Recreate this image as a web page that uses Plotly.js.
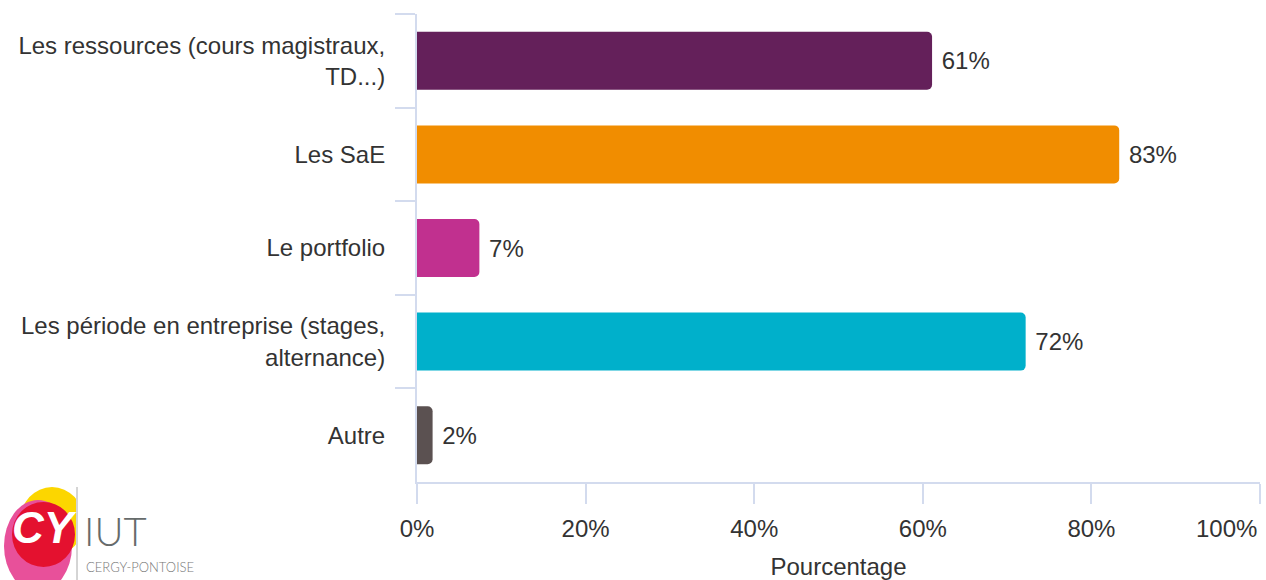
<!DOCTYPE html>
<html>
<head>
<meta charset="utf-8">
<script src="https://cdn.plot.ly/plotly-3.0.1.min.js"></script>
<style>html,body{margin:0;padding:0;background:#fff;}#chart{width:1266px;height:580px;}</style>
</head>
<body>
<div id="chart"></div>
<script>
var categories = ["Les ressources (cours magistraux,<br>TD...)", "Les SaE", "Le portfolio", "Les période en entreprise (stages,<br>alternance)", "Autre"];
var values = [61.1, 83.3, 7.4, 72.2, 1.85];
var barColors = ["#64205a", "#f18d00", "#c1308f", "#00b0cb", "#5b5151"];
var xTickVals = [0, 20, 40, 60, 80, 100];
var xTickText = ["0%", "20%", "40%", "60%", "80%", "100%"];
var xTitle = "Pourcentage";

var W = 1266, H = 580;
var M = {l: 417, r: 6, t: 14, b: 98};
var PW = W - M.l - M.r, PH = H - M.t - M.b;
function px(x) { return (x - M.l) / PW; }
function py(y) { return (H - M.b - y) / PH; }

var labels = values.map(function (v) { return "\u00a0" + Math.round(v) + "%"; });
// last tick label is drawn pulled inside the chart edge, as in the reference
var shownTickText = xTickText.map(function (t, i) { return i === xTickText.length - 1 ? "" : t; });

var FONT = "Liberation Sans, Arial, sans-serif";
var trace = {
  type: "bar",
  orientation: "h",
  y: categories,
  x: values,
  marker: {color: barColors},
  text: labels,
  textposition: "outside",
  textfont: {family: FONT, size: 24, color: "#333333"},
  cliponaxis: false,
  hoverinfo: "none"
};

var axisCol = "#d3dbee";
var layout = {
  width: W, height: H,
  margin: M,
  paper_bgcolor: "#ffffff",
  plot_bgcolor: "#ffffff",
  showlegend: false,
  bargap: 0.38,
  barcornerradius: 5,
  font: {family: FONT, size: 24, color: "#333333"},
  xaxis: {
    range: [0, 100],
    tickvals: xTickVals,
    ticktext: shownTickText,
    showgrid: false,
    zeroline: false,
    showline: true,
    linecolor: axisCol,
    linewidth: 2,
    ticks: "outside",
    ticklen: 20,
    tickwidth: 2,
    tickcolor: axisCol,
    ticklabelstandoff: 4,
    tickfont: {size: 24, color: "#333333"},
    title: {text: xTitle, font: {size: 24, color: "#333333"}, standoff: 17}
  },
  yaxis: {
    autorange: "reversed",
    type: "category",
    showgrid: false,
    zeroline: false,
    showline: true,
    linecolor: axisCol,
    linewidth: 2,
    ticks: "outside",
    tickson: "boundaries",
    ticklen: 20,
    tickwidth: 2,
    tickcolor: axisCol,
    ticklabelstandoff: 25,
    tickfont: {size: 24, color: "#333333"}
  },
  shapes: [
    {type: "circle", xref: "paper", yref: "paper", layer: "above",
     x0: px(20), x1: px(84), y0: py(487), y1: py(556), fillcolor: "#fcd600", line: {width: 0}},
    {type: "circle", xref: "paper", yref: "paper", layer: "above",
     x0: px(4), x1: px(72), y0: py(500), y1: py(592), fillcolor: "#e8509a", line: {width: 0}},
    {type: "circle", xref: "paper", yref: "paper", layer: "above",
     x0: px(12), x1: px(75), y0: py(502), y1: py(567), fillcolor: "#e4112f", line: {width: 0}},
    {type: "rect", xref: "paper", yref: "paper", layer: "above",
     x0: px(76), x1: px(86), y0: py(484), y1: py(580), fillcolor: "#ffffff", line: {width: 0}},
    {type: "line", xref: "paper", yref: "paper", layer: "above",
     x0: px(77), x1: px(77), y0: py(487), y1: py(580), line: {color: "#aaaaaa", width: 1}}
  ],
  annotations: [
    {xref: "paper", yref: "paper", x: px(1259), y: py(528), xanchor: "right", yanchor: "middle",
     text: xTickText[xTickText.length - 1], showarrow: false,
     font: {family: FONT, size: 24, color: "#333333"}},
    {xref: "paper", yref: "paper", x: px(44), y: py(527), xanchor: "center", yanchor: "middle",
     text: "<b><i>CY</i></b>", showarrow: false,
     font: {family: FONT, size: 44, color: "#ffffff"}},
    {xref: "paper", yref: "paper", x: px(82), y: py(557), xanchor: "left", yanchor: "bottom",
     text: "IUT", showarrow: false,
     font: {family: "Lato, sans-serif", size: 40, weight: 300, color: "#666b6b"}},
    {xref: "paper", yref: "paper", x: px(84), y: py(557), xanchor: "left", yanchor: "top",
     text: "CERGY-PONTOISE", showarrow: false,
     font: {family: "Lato, sans-serif", size: 13, weight: 300, color: "#777777"}}
  ]
};

Plotly.newPlot("chart", [trace], layout, {displayModeBar: false, staticPlot: true});
</script>
</body>
</html>
